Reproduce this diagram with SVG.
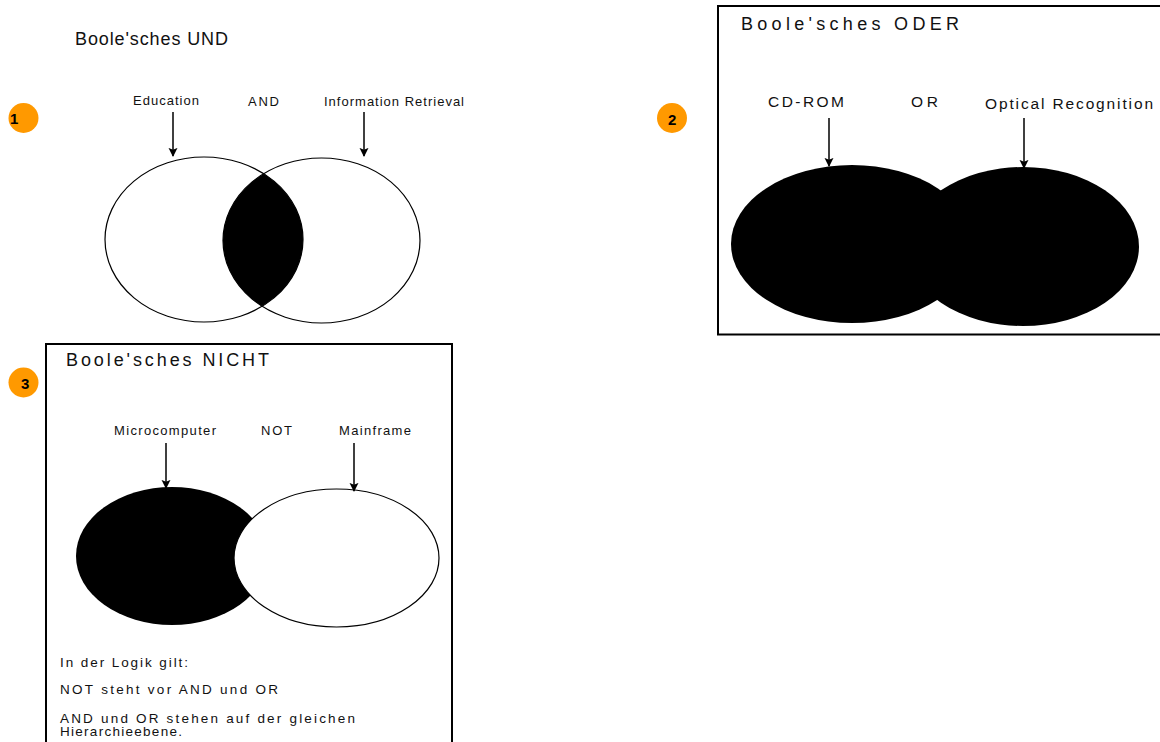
<svg xmlns="http://www.w3.org/2000/svg" width="1160" height="742" viewBox="0 0 1160 742">
<style>
text{font-family:"Liberation Sans",Arial,sans-serif;fill:#111}
.title{font-size:18px}
.lbl{font-size:13px}
.lbl2{font-size:15.5px}
.note{font-size:13.5px}
.num{font-size:15px;font-weight:bold;fill:#000}
.badge{fill:#FF9900}
.frame{fill:none;stroke:#000;stroke-width:2}
.outline{fill:#fff;stroke:#000;stroke-width:1.2}
.arrow{stroke:#000;stroke-width:1.5;fill:none;marker-end:url(#ah)}
</style>
<defs>
<marker id="ah" viewBox="0 0 10 10" refX="9" refY="5" markerWidth="9" markerHeight="10" markerUnits="userSpaceOnUse" orient="auto"><path d="M0,0 L10,5 L0,10 L2,5 Z" fill="#000"/></marker>
<clipPath id="leftUnd"><ellipse cx="204" cy="239.5" rx="99" ry="82.5"/></clipPath>
</defs>
<rect width="1160" height="742" fill="#fff"/>

<g id="panel-und">
  <text class="title" x="75" y="45" textLength="153" lengthAdjust="spacing">Boole'sches UND</text>
  <g id="badge1"><circle class="badge" cx="23.5" cy="118" r="15"/><text class="num" x="10" y="124">1</text></g>
  <g id="und-education"><ellipse class="outline" cx="204" cy="239.5" rx="99" ry="82.5"/><text class="lbl" x="133" y="105" textLength="66" lengthAdjust="spacing">Education</text></g>
  <g id="und-ir"><ellipse cx="321.5" cy="240.5" rx="98.5" ry="82.5" fill="none" stroke="#000" stroke-width="1.2"/><text class="lbl" x="324" y="106" textLength="140" lengthAdjust="spacing">Information Retrieval</text></g>
  <g id="und-lens"><ellipse cx="321.5" cy="240.5" rx="98.5" ry="82.5" fill="#000" clip-path="url(#leftUnd)"/></g>
  <g id="und-op"><text class="lbl" x="248" y="106" textLength="31" lengthAdjust="spacing">AND</text></g>
</g>

<g id="panel-oder">
  <rect class="frame" x="718" y="6" width="446" height="328.5"/>
  <text class="title" x="741" y="29.5" textLength="218" lengthAdjust="spacing">Boole'sches ODER</text>
  <g id="badge2"><circle class="badge" cx="672" cy="118" r="15"/><text class="num" x="668" y="125">2</text></g>
  <g id="oder-cdrom"><ellipse cx="852" cy="244" rx="121" ry="79" fill="#000"/><text class="lbl2" x="768" y="107" textLength="76" lengthAdjust="spacing">CD-ROM</text></g>
  <g id="oder-ocr"><ellipse cx="1023" cy="246.5" rx="116" ry="79.5" fill="#000"/><text class="lbl2" x="985" y="108.5" textLength="168" lengthAdjust="spacing">Optical Recognition</text></g>
  <g id="oder-op"><text class="lbl2" x="911" y="107" textLength="27" lengthAdjust="spacing">OR</text></g>
</g>

<g id="panel-nicht">
  <rect class="frame" x="46" y="344" width="406" height="410"/>
  <text class="title" x="66" y="366" textLength="203" lengthAdjust="spacing">Boole'sches NICHT</text>
  <g id="badge3"><circle class="badge" cx="23.5" cy="382.5" r="15"/><text class="num" x="21" y="389">3</text></g>
  <g id="nicht-micro"><ellipse cx="172" cy="556" rx="96" ry="69" fill="#000"/><text class="lbl" x="114" y="435" textLength="102" lengthAdjust="spacing">Microcomputer</text></g>
  <g id="nicht-main"><ellipse class="outline" cx="336.5" cy="558" rx="102.5" ry="69"/><text class="lbl" x="339" y="435" textLength="72" lengthAdjust="spacing">Mainframe</text></g>
  <g id="nicht-op"><text class="lbl" x="261" y="435" textLength="31" lengthAdjust="spacing">NOT</text></g>
  <g id="nicht-note">
    <text class="note" x="60" y="667" textLength="128" lengthAdjust="spacing">In der Logik gilt:</text>
    <text class="note" x="60" y="694" textLength="218" lengthAdjust="spacing">NOT steht vor AND und OR</text>
    <text class="note" x="60" y="723" textLength="295" lengthAdjust="spacing">AND und OR stehen auf der gleichen</text>
    <text class="note" x="60" y="736" textLength="122" lengthAdjust="spacing">Hierarchieebene.</text>
  </g>
</g>

<g id="connectors">
  <line class="arrow" x1="173" y1="112" x2="173" y2="156"/>
  <line class="arrow" x1="364" y1="112" x2="364" y2="156"/>
  <line class="arrow" x1="829" y1="118" x2="829" y2="166"/>
  <line class="arrow" x1="1024" y1="118" x2="1024" y2="168"/>
  <line class="arrow" x1="166" y1="443" x2="166" y2="488"/>
  <line class="arrow" x1="354" y1="443" x2="354" y2="491"/>
</g>
</svg>
